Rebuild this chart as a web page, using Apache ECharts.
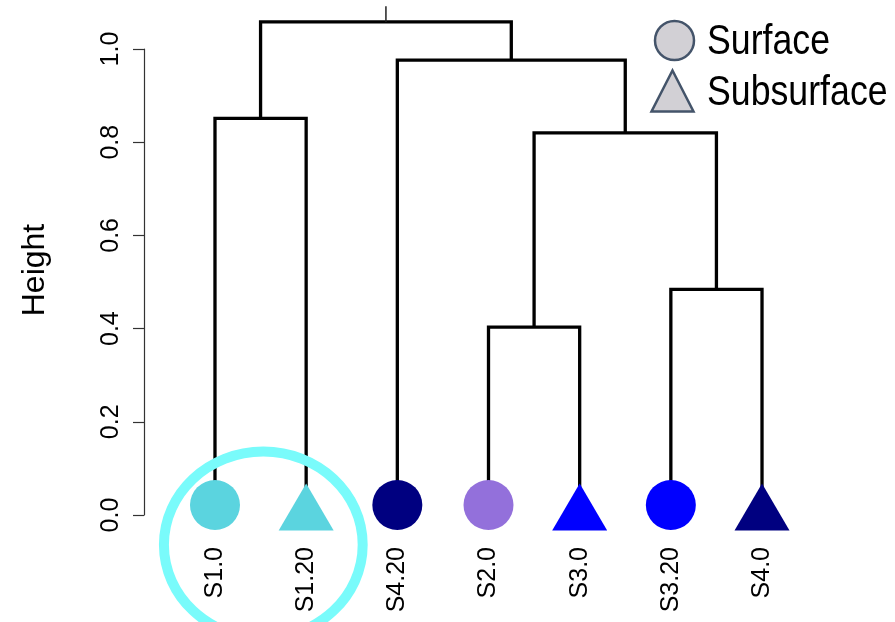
<!DOCTYPE html>
<html>
<head>
<meta charset="utf-8">
<script src="https://cdn.jsdelivr.net/npm/echarts@6/dist/echarts.min.js"></script>
<style>
html,body{margin:0;padding:0;background:#fff;}
#chart{width:895px;height:622px;}
</style>
</head>
<body>
<div id="chart"></div>
<script>
// ---- data ----
const leaves = ['S1.0', 'S1.20', 'S4.20', 'S2.0', 'S3.0', 'S3.20', 'S4.0'];
const leafShapes = ['circle', 'triangle', 'circle', 'circle', 'triangle', 'circle', 'triangle'];
const leafColors = ['#5BD4DF', '#5BD4DF', '#000080', '#9370DB', '#0000FF', '#0000FF', '#000080'];
// hclust-style merges: negative = leaf (1-based, display order), positive = earlier merge
const merges = [[-1, -2], [-4, -5], [-6, -7], [2, 3], [-3, 4], [1, 5]];
const mergeHeights = [0.851, 0.403, 0.484, 0.820, 0.976, 1.058];
const rootStubTop = 1.092;
const yTicks = [0, 0.2, 0.4, 0.6, 0.8, 1.0];
const legendNames = ['Surface', 'Subsurface'];
const legendShapes = ['circle', 'triangle'];
// highlighted cluster ring (leaf-position units / height units)
const ringCenter = [0.53, -0.064];
const ringRadius = [1.09, 0.2];

// ---- build dendrogram segments ----
const nodeX = [], nodeH = [];
function childPos(c) {
  if (c < 0) return [-c - 1, 0];
  return [nodeX[c - 1], nodeH[c - 1]];
}
const segments = merges.map((m, i) => {
  const a = childPos(m[0]), b = childPos(m[1]);
  nodeX[i] = (a[0] + b[0]) / 2;
  nodeH[i] = mergeHeights[i];
  return [a[0], a[1], b[0], b[1], mergeHeights[i]];
});
const root = merges.length - 1;
const stub = [[nodeX[root], nodeH[root], rootStubTop]];
const leafPositions = leaves.map((n, i) => i);

const leafData = leaves.map((n, i) => ({
  value: [i, 0],
  symbol: leafShapes[i],
  symbolSize: leafShapes[i] === 'circle' ? 50 : [55, 47],
  symbolOffset: leafShapes[i] === 'circle' ? [0, -10] : [0, -8],
  itemStyle: { color: leafColors[i], opacity: 1 }
}));

const font = '"Liberation Sans", Arial, sans-serif';
const legendFill = '#D2D0D5', legendStroke = '#44546A';

// legend drawn as graphic (icons + condensed text)
const legendGraphic = [];
legendNames.forEach((n, i) => {
  const cy = 40.5 + i * 50.5;
  if (legendShapes[i] === 'circle') {
    legendGraphic.push({ type: 'circle', shape: { cx: 674.5, cy: cy, r: 19.5 },
      style: { fill: legendFill, stroke: legendStroke, lineWidth: 2.5 }, z: 10 });
  } else {
    legendGraphic.push({ type: 'polygon', shape: { points: [[672.5, cy - 20.5], [693.5, cy + 20.5], [651.5, cy + 20.5]] },
      style: { fill: legendFill, stroke: legendStroke, lineWidth: 2.5, lineJoin: 'miter' }, z: 10 });
  }
  legendGraphic.push({ type: 'text', x: 707, y: cy + 2, scaleX: 0.85, originX: 0, z: 10,
    style: { text: n, font: '42px "Liberation Sans", Arial, sans-serif', fill: '#000', textVerticalAlign: 'middle', verticalAlign: 'middle' } });
});

const chart = echarts.init(document.getElementById('chart'));
chart.setOption({
  animation: false,
  backgroundColor: '#ffffff',
  grid: { left: 169.4, right: 87.4, top: 49, bottom: 107 },
  graphic: legendGraphic,
  xAxis: {
    type: 'value',
    min: -0.5, max: 6.5,
    axisLine: { show: false },
    axisTick: { show: false },
    splitLine: { show: false },
    axisLabel: {
      rotate: 90, margin: 32, fontSize: 25, fontFamily: font, color: '#000',
      customValues: leafPositions,
      formatter: v => leaves[Math.round(v)]
    }
  },
  yAxis: {
    type: 'value',
    min: 0, max: 1, interval: 0.2,
    offset: 25.4,
    name: 'Height',
    nameLocation: 'middle',
    nameGap: 93,
    nameTextStyle: { fontSize: 32, fontFamily: font, color: '#000', padding: [0, 0, 0, 24] },
    axisLine: { show: true, onZero: false, lineStyle: { color: '#333', width: 1.2 } },
    axisTick: { show: true, length: 11, lineStyle: { color: '#333', width: 1.2 } },
    splitLine: { show: false },
    axisLabel: {
      rotate: 90, margin: 20, fontSize: 25, fontFamily: font, color: '#000',
      customValues: yTicks,
      formatter: v => v.toFixed(1)
    }
  },
  series: [
    {
      type: 'custom',
      name: 'tree',
      clip: false,
      z: 2,
      encode: { x: [0, 2], y: [1, 3, 4] },
      data: segments,
      renderItem: function (params, api) {
        const xa = api.value(0), ha = api.value(1), xb = api.value(2), hb = api.value(3), h = api.value(4);
        const pts = [api.coord([xa, ha]), api.coord([xa, h]), api.coord([xb, h]), api.coord([xb, hb])];
        return {
          type: 'polyline',
          shape: { points: pts },
          style: { stroke: '#000', lineWidth: 3.3, fill: null, lineJoin: 'miter' }
        };
      }
    },
    {
      type: 'custom',
      name: 'stub',
      clip: false,
      z: 2,
      encode: { x: 0, y: [1, 2] },
      data: stub,
      renderItem: function (params, api) {
        const p1 = api.coord([api.value(0), api.value(1)]);
        const p2 = api.coord([api.value(0), api.value(2)]);
        return {
          type: 'line',
          shape: { x1: p1[0], y1: p1[1], x2: p2[0], y2: p2[1] },
          style: { stroke: '#222', lineWidth: 1.5 }
        };
      }
    },
    {
      type: 'scatter',
      name: 'leaves',
      clip: false,
      z: 5,
      itemStyle: { opacity: 1 },
      data: leafData
    },
    {
      type: 'custom',
      name: 'ring',
      clip: false,
      z: 4,
      encode: { x: 0, y: 1 },
      data: [[ringCenter[0], ringCenter[1], ringRadius[0], ringRadius[1]]],
      renderItem: function (params, api) {
        const c = api.coord([api.value(0), api.value(1)]);
        const s = api.size([api.value(2), api.value(3)]);
        return {
          type: 'ellipse',
          shape: { cx: c[0], cy: c[1], rx: s[0], ry: s[1] },
          style: { stroke: '#79FBFB', lineWidth: 10, fill: null }
        };
      }
    }
  ]
});
</script>
</body>
</html>
